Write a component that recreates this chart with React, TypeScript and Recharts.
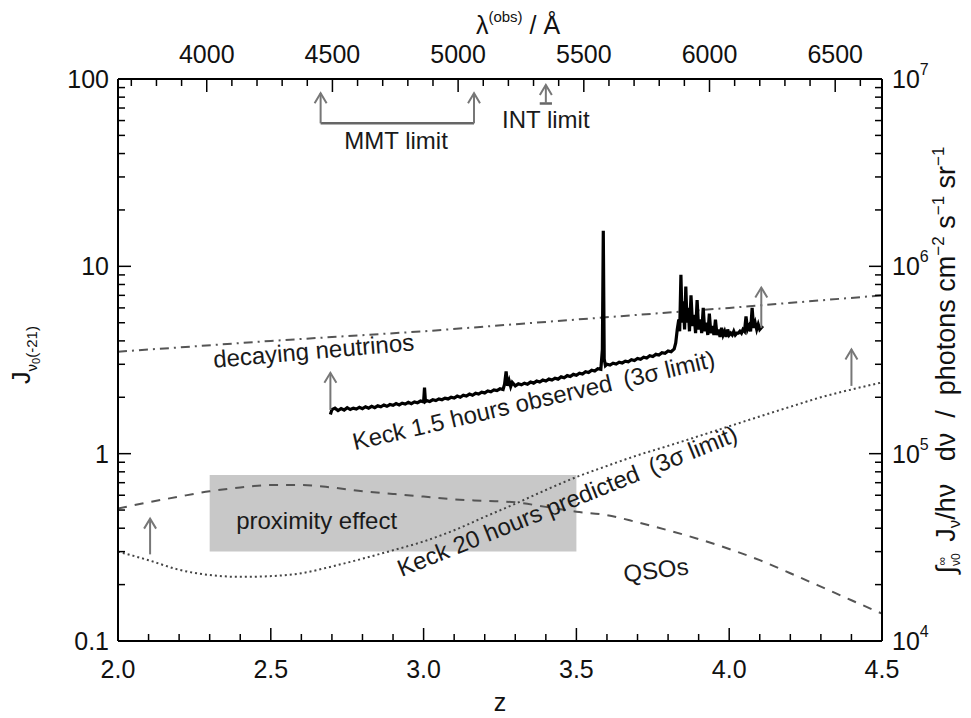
import React from 'react';
import { ComposedChart, Line, XAxis, YAxis, ReferenceArea, ReferenceDot } from 'recharts';

const FONT = '"Liberation Sans", Arial, Helvetica, sans-serif';
const FS = 25;
const LYA = 1215.67;

// tick values
const zTicks = [2.0, 2.1, 2.2, 2.3, 2.4, 2.5, 2.6, 2.7, 2.8, 2.9, 3.0, 3.1, 3.2, 3.3, 3.4, 3.5, 3.6, 3.7, 3.8, 3.9, 4.0, 4.1, 4.2, 4.3, 4.4, 4.5];
const lambdaTicks = [3700, 3800, 3900, 4000, 4100, 4200, 4300, 4400, 4500, 4600, 4700, 4800, 4900, 5000, 5100, 5200, 5300, 5400, 5500, 5600, 5700, 5800, 5900, 6000, 6100, 6200, 6300, 6400, 6500, 6600];
const lambdaMajor = [4000, 4500, 5000, 5500, 6000, 6500];
const jTicks = [0.1, 0.2, 0.3, 0.4, 0.5, 0.6, 0.7, 0.8, 0.9, 1, 2, 3, 4, 5, 6, 7, 8, 9, 10, 20, 30, 40, 50, 60, 70, 80, 90, 100];
const jMajor = [0.1, 1, 10, 100];
const photonTicks = [1e4, 2e4, 3e4, 4e4, 5e4, 6e4, 7e4, 8e4, 9e4, 1e5, 2e5, 3e5, 4e5, 5e5, 6e5, 7e5, 8e5, 9e5, 1e6, 2e6, 3e6, 4e6, 5e6, 6e6, 7e6, 8e6, 9e6, 1e7];
const photonMajor = [1e4, 1e5, 1e6, 1e7];

// series
const neutrinoZ = [2.0, 2.5, 3.0, 3.5, 4.0, 4.5];
const neutrinoJ = [3.5, 4.0, 4.5, 5.2, 6.0, 7.0];

const qsoZ = [2.0, 2.1, 2.2, 2.3, 2.4, 2.5, 2.6, 2.7, 2.8, 2.9, 3.0, 3.1, 3.2, 3.3, 3.4, 3.5, 3.6, 3.7, 3.8, 3.9, 4.0, 4.1, 4.2, 4.3, 4.4, 4.5];
const qsoJ = [0.51, 0.55, 0.59, 0.63, 0.66, 0.68, 0.68, 0.66, 0.63, 0.61, 0.59, 0.57, 0.56, 0.55, 0.52, 0.49, 0.47, 0.43, 0.39, 0.35, 0.31, 0.27, 0.23, 0.195, 0.165, 0.14];

const predZ = [2.0, 2.1, 2.2, 2.3, 2.4, 2.5, 2.6, 2.7, 2.8, 2.9, 3.0, 3.1, 3.2, 3.3, 3.4, 3.5, 3.6, 3.7, 3.8, 3.9, 4.0, 4.1, 4.2, 4.3, 4.4, 4.5];
const predJ = [0.30, 0.27, 0.24, 0.225, 0.22, 0.222, 0.23, 0.25, 0.275, 0.305, 0.34, 0.39, 0.46, 0.54, 0.64, 0.75, 0.86, 0.98, 1.1, 1.24, 1.4, 1.58, 1.78, 2.0, 2.2, 2.4];

const observed: [number, number][] = [
  [2.695, 1.62], [2.70, 1.72], [2.71, 1.75], [2.72, 1.70], [2.73, 1.74], [2.74, 1.71], [2.75, 1.76], [2.76, 1.72], [2.77, 1.75],
  [2.78, 1.73], [2.79, 1.77], [2.80, 1.74], [2.81, 1.78], [2.82, 1.75], [2.83, 1.79], [2.84, 1.76], [2.85, 1.80], [2.86, 1.78],
  [2.87, 1.82], [2.88, 1.79], [2.89, 1.83], [2.90, 1.81], [2.91, 1.85], [2.92, 1.82], [2.93, 1.86], [2.94, 1.84], [2.95, 1.88],
  [2.96, 1.85], [2.97, 1.89], [2.98, 1.87], [2.99, 1.91], [3.000, 1.89], [3.003, 2.25], [3.006, 1.90], [3.01, 1.92], [3.02, 1.90],
  [3.03, 1.94], [3.04, 1.92], [3.05, 1.96], [3.06, 1.94], [3.07, 1.98], [3.08, 1.96], [3.09, 2.00], [3.10, 1.98], [3.11, 2.03],
  [3.12, 2.00], [3.13, 2.05], [3.14, 2.03], [3.15, 2.08], [3.16, 2.05], [3.17, 2.10], [3.18, 2.08], [3.19, 2.13], [3.20, 2.11],
  [3.21, 2.16], [3.22, 2.14], [3.23, 2.19], [3.24, 2.17], [3.25, 2.22], [3.26, 2.20], [3.265, 2.35], [3.270, 2.75], [3.275, 2.30],
  [3.28, 2.45], [3.285, 2.28], [3.29, 2.40], [3.30, 2.30], [3.31, 2.36], [3.32, 2.33], [3.33, 2.38], [3.34, 2.35], [3.35, 2.41],
  [3.36, 2.38], [3.37, 2.44], [3.38, 2.41], [3.39, 2.47], [3.40, 2.44], [3.41, 2.50], [3.42, 2.47], [3.43, 2.53], [3.44, 2.50],
  [3.45, 2.57], [3.46, 2.54], [3.47, 2.61], [3.48, 2.58], [3.49, 2.65], [3.50, 2.62], [3.51, 2.69], [3.52, 2.66], [3.53, 2.74],
  [3.54, 2.71], [3.55, 2.79], [3.56, 2.76], [3.57, 2.84], [3.580, 2.82], [3.585, 3.6], [3.588, 15.5], [3.591, 3.2], [3.595, 2.95],
  [3.60, 3.00], [3.61, 2.97], [3.62, 3.04], [3.63, 3.01], [3.64, 3.08], [3.65, 3.05], [3.66, 3.12], [3.67, 3.09], [3.68, 3.17],
  [3.69, 3.14], [3.70, 3.22], [3.71, 3.19], [3.72, 3.27], [3.73, 3.24], [3.74, 3.33], [3.75, 3.30], [3.76, 3.39], [3.77, 3.36],
  [3.78, 3.46], [3.79, 3.43], [3.80, 3.53], [3.81, 3.50], [3.82, 3.62], [3.825, 3.9], [3.830, 4.6], [3.835, 5.2], [3.838, 4.5],
  [3.842, 9.0], [3.846, 5.0], [3.850, 6.5], [3.854, 4.6], [3.858, 7.8], [3.862, 5.0], [3.866, 6.0], [3.870, 4.5], [3.875, 7.0],
  [3.880, 4.8], [3.885, 5.5], [3.890, 4.4], [3.895, 6.6], [3.900, 4.6], [3.905, 5.2], [3.910, 4.4], [3.915, 6.0], [3.920, 4.5],
  [3.925, 5.0], [3.930, 4.3], [3.935, 5.6], [3.940, 4.4], [3.945, 4.8], [3.950, 4.3], [3.955, 5.2], [3.960, 4.3], [3.965, 4.6],
  [3.970, 4.2], [3.975, 4.7], [3.980, 4.3], [3.985, 4.5], [3.990, 4.2], [3.995, 4.6], [4.000, 4.3], [4.005, 4.4], [4.010, 4.3],
  [4.015, 4.5], [4.020, 4.3], [4.025, 4.4], [4.030, 4.4], [4.035, 4.5], [4.040, 4.4], [4.045, 4.6], [4.050, 4.5], [4.055, 5.4],
  [4.060, 4.6], [4.065, 4.8], [4.070, 4.5], [4.075, 6.0], [4.080, 4.7], [4.085, 5.0], [4.090, 4.6], [4.095, 4.9], [4.100, 4.6],
  [4.110, 4.8],
];

// arrows: [z, base J, tip J]
const arrows: [number, number, number][] = [
  [2.663, 58, 84],
  [3.165, 58, 84],
  [3.40, 74, 93],
  [2.105, 0.29, 0.45],
  [2.695, 1.71, 2.7],
  [4.105, 4.7, 7.7],
  [4.40, 2.3, 3.6],
];
const mmtLine = [{ z: 2.663, J: 58 }, { z: 3.165, J: 58 }];
const intLine = [{ z: 3.38, J: 74 }, { z: 3.42, J: 74 }];

const proximityBox = { z1: 2.3, z2: 3.5, j1: 0.3, j2: 0.77 };

// text annotations: [z, J, text, angle]
const notes: [number, number, string, number][] = [
  [2.64, 3.55, 'decaying neutrinos', -5],
  [3.36, 1.93, 'Keck 1.5 hours observed\u2002(3\u03c3 limit)', -13],
  [3.47, 0.56, 'Keck 20 hours predicted\u2002(3\u03c3 limit)', -22],
  [3.76, 0.24, 'QSOs', -7],
  [2.65, 0.44, 'proximity effect', 0],
  [2.91, 47, 'MMT limit', 0],
  [3.40, 61, 'INT limit', 0],
];

const zip = (zs: number[], js: number[]) => zs.map((z, i) => ({ z, J: js[i] }));
const neutrinoData = zip(neutrinoZ, neutrinoJ);
const qsoData = zip(qsoZ, qsoJ);
const predData = zip(predZ, predJ);
const obsData = observed.map(([z, J]) => ({ z, J }));
const lambdaToZ = (l: number) => l / LYA - 1;
const topTicks = lambdaTicks.map(lambdaToZ);

const near = (a: number, b: number) => Math.abs(a - b) < 1e-6 * Math.max(1, Math.abs(b));

const BottomTick = (p: any) => {
  const { x, y, payload } = p;
  const v = payload.value;
  const major = Math.abs(v * 2 - Math.round(v * 2)) < 1e-6;
  return (
    <g>
      <line x1={x} x2={x} y1={y} y2={y - (major ? 13 : 7)} stroke="#000" strokeWidth={1.5} />
      {major && (
        <text x={x} y={y + 37} textAnchor="middle" fontSize={FS} fontFamily={FONT} fill="#111">
          {v.toFixed(1)}
        </text>
      )}
    </g>
  );
};

const TopTick = (p: any) => {
  const { x, y, payload } = p;
  const lam = (payload.value + 1) * LYA;
  const r = Math.round(lam);
  const major = lambdaMajor.some((m) => Math.abs(m - r) < 1);
  return (
    <g>
      <line x1={x} x2={x} y1={y} y2={y + (major ? 13 : 7)} stroke="#000" strokeWidth={1.5} />
      {major && (
        <text x={x} y={y - 16} textAnchor="middle" fontSize={FS} fontFamily={FONT} fill="#111">
          {String(r)}
        </text>
      )}
    </g>
  );
};

const LeftTick = (p: any) => {
  const { x, y, payload } = p;
  const v = payload.value;
  const major = jMajor.some((m) => near(v, m));
  return (
    <g>
      <line x1={x} x2={x + (major ? 13 : 7)} y1={y} y2={y} stroke="#000" strokeWidth={1.5} />
      {major && (
        <text x={x - 9} y={y + 9} textAnchor="end" fontSize={FS} fontFamily={FONT} fill="#111">
          {String(v)}
        </text>
      )}
    </g>
  );
};

const RightTick = (p: any) => {
  const { x, y, payload } = p;
  const v = payload.value;
  const major = photonMajor.some((m) => near(v, m));
  const e = Math.round(Math.log10(v));
  return (
    <g>
      <line x1={x} x2={x - (major ? 13 : 7)} y1={y} y2={y} stroke="#000" strokeWidth={1.5} />
      {major && (
        <text x={x + 10} y={y + 9} textAnchor="start" fontSize={FS} fontFamily={FONT} fill="#111">
          <tspan>10</tspan>
          <tspan dy={-13} fontSize={16}>{String(e)}</tspan>
        </text>
      )}
    </g>
  );
};

const ArrowHead = (p: any) => {
  const { cx, cy, index } = p;
  if (index !== 1 || cx == null || cy == null) return <g key={`a${index}`} />;
  return (
    <path
      key={`a${index}`}
      d={`M${cx - 6},${cy + 10} L${cx},${cy} L${cx + 6},${cy + 10}`}
      fill="none"
      stroke="#777"
      strokeWidth={2}
    />
  );
};

const noteContent = (text: string, angle: number) => (props: any) => {
  const vb = props.viewBox || {};
  const cx = (vb.x ?? 0) + (vb.width ?? 0) / 2;
  const cy = (vb.y ?? 0) + (vb.height ?? 0) / 2;
  return (
    <text
      x={cx}
      y={cy}
      textAnchor="middle"
      dominantBaseline="central"
      transform={`rotate(${angle} ${cx} ${cy})`}
      fontSize={24}
      fontFamily={FONT}
      fill="#1a1a1a"
      style={{ whiteSpace: 'pre' }}
    >
      {text}
    </text>
  );
};

const BottomTitle = (props: any) => {
  const vb = props.viewBox;
  return (
    <text x={vb.x + vb.width / 2} y={vb.y + 70} textAnchor="middle" fontSize={FS} fontFamily={FONT} fill="#111">
      z
    </text>
  );
};

const TopTitle = (props: any) => {
  const vb = props.viewBox;
  return (
    <text x={vb.x + vb.width / 2 + 18} y={34} textAnchor="middle" fontSize={FS} fontFamily={FONT} fill="#111">
      <tspan>λ</tspan>
      <tspan dy={-12} fontSize={15}>(obs)</tspan>
      <tspan dy={12}> / Å</tspan>
    </text>
  );
};

const LeftTitle = () => {
  const cx = 30;
  const cy = 355;
  return (
    <text x={cx} y={cy} textAnchor="middle" transform={`rotate(-90 ${cx} ${cy})`} fontSize={FS} fontFamily={FONT} fill="#111">
      <tspan>J</tspan>
      <tspan dy={7} fontSize={15}>ν</tspan>
      <tspan dy={3} fontSize={11}>0</tspan>
      <tspan dy={-3} fontSize={15}>(-21)</tspan>
    </text>
  );
};

const RightTitle = (props: any) => {
  const vb = props.viewBox;
  const cx = vb.x + 73;
  const cy = 360;
  return (
    <text x={cx} y={cy} textAnchor="middle" transform={`rotate(-90 ${cx} ${cy})`} fontSize={27} fontFamily={FONT} fill="#111" style={{ whiteSpace: 'pre' }}>
      <tspan>∫</tspan>
      <tspan dy={5} fontSize={12}>ν0</tspan>
      <tspan dy={-14} fontSize={12} dx={-12}>∞</tspan>
      <tspan dy={9}>  J</tspan>
      <tspan dy={5} fontSize={17}>ν</tspan>
      <tspan dy={-5}>/hν   dν  /  photons cm</tspan>
      <tspan dy={-11} fontSize={17}>−2</tspan>
      <tspan dy={11}> s</tspan>
      <tspan dy={-11} fontSize={17}>−1</tspan>
      <tspan dy={11}> sr</tspan>
      <tspan dy={-11} fontSize={17}>−1</tspan>
    </text>
  );
};

export default function App() {
  return (
    <div style={{ position: 'absolute', left: 0, top: 0, width: 971, height: 718, background: '#fff' }}>
      <ComposedChart width={971} height={718} margin={{ top: 0, right: 0, bottom: 0, left: 0 }}>
        <XAxis
          xAxisId="bottom"
          dataKey="z"
          type="number"
          domain={[2, 4.5]}
          allowDataOverflow
          ticks={zTicks}
          interval={0}
          tick={<BottomTick />}
          tickLine={false}
          tickSize={0}
          tickMargin={0}
          height={77}
          axisLine={{ stroke: '#000', strokeWidth: 2 }}
          label={{ content: BottomTitle }}
        />
        <XAxis
          xAxisId="top"
          orientation="top"
          dataKey="z"
          type="number"
          domain={[2, 4.5]}
          allowDataOverflow
          ticks={topTicks}
          interval={0}
          tick={<TopTick />}
          tickLine={false}
          tickSize={0}
          tickMargin={0}
          height={79}
          axisLine={{ stroke: '#000', strokeWidth: 2 }}
          label={{ content: TopTitle }}
        />
        <YAxis
          yAxisId="left"
          type="number"
          scale="log"
          domain={[0.1, 100]}
          allowDataOverflow
          ticks={jTicks}
          interval={0}
          tick={<LeftTick />}
          tickLine={false}
          tickSize={0}
          tickMargin={0}
          width={118}
          axisLine={{ stroke: '#000', strokeWidth: 2 }}
          label={{ content: LeftTitle }}
        />
        <YAxis
          yAxisId="right"
          orientation="right"
          type="number"
          scale="log"
          domain={[1e4, 1e7]}
          allowDataOverflow
          ticks={photonTicks}
          interval={0}
          tick={<RightTick />}
          tickLine={false}
          tickSize={0}
          tickMargin={0}
          width={89}
          axisLine={{ stroke: '#000', strokeWidth: 2 }}
          label={{ content: RightTitle }}
        />
        <ReferenceArea
          xAxisId="bottom"
          yAxisId="left"
          x1={proximityBox.z1}
          x2={proximityBox.z2}
          y1={proximityBox.j1}
          y2={proximityBox.j2}
          fill="#c8c8c8"
          fillOpacity={1}
          stroke="none"
        />
        <Line xAxisId="bottom" yAxisId="left" data={neutrinoData} dataKey="J" type="linear" stroke="#555" strokeWidth={2} strokeDasharray="9 5 2 5" dot={false} isAnimationActive={false} />
        <Line xAxisId="bottom" yAxisId="left" data={qsoData} dataKey="J" type="monotone" stroke="#555" strokeWidth={2} strokeDasharray="9 8" dot={false} isAnimationActive={false} />
        <Line xAxisId="bottom" yAxisId="left" data={predData} dataKey="J" type="monotone" stroke="#444" strokeWidth={2} strokeDasharray="2 3" dot={false} isAnimationActive={false} />
        <Line xAxisId="bottom" yAxisId="left" data={obsData} dataKey="J" type="linear" stroke="#000" strokeWidth={3.2} dot={false} isAnimationActive={false} />
        <Line xAxisId="top" yAxisId="left" data={mmtLine} dataKey="J" type="linear" stroke="#666" strokeWidth={2.5} dot={false} isAnimationActive={false} />
        <Line xAxisId="top" yAxisId="left" data={intLine} dataKey="J" type="linear" stroke="#666" strokeWidth={2.5} dot={false} isAnimationActive={false} />
        {arrows.map(([z, b, t], i) => (
          <Line
            key={`arr${i}`}
            xAxisId="bottom"
            yAxisId="left"
            data={[{ z, J: b }, { z, J: t }]}
            dataKey="J"
            type="linear"
            stroke="#777"
            strokeWidth={2}
            dot={ArrowHead}
            activeDot={false}
            isAnimationActive={false}
          />
        ))}
        {notes.map(([z, J, text, angle], i) => (
          <ReferenceDot
            key={`n${i}`}
            xAxisId="bottom"
            yAxisId="left"
            x={z}
            y={J}
            r={0}
            fill="none"
            stroke="none"
            ifOverflow="visible"
            label={{ content: noteContent(text, angle) }}
          />
        ))}
      </ComposedChart>
    </div>
  );
}
